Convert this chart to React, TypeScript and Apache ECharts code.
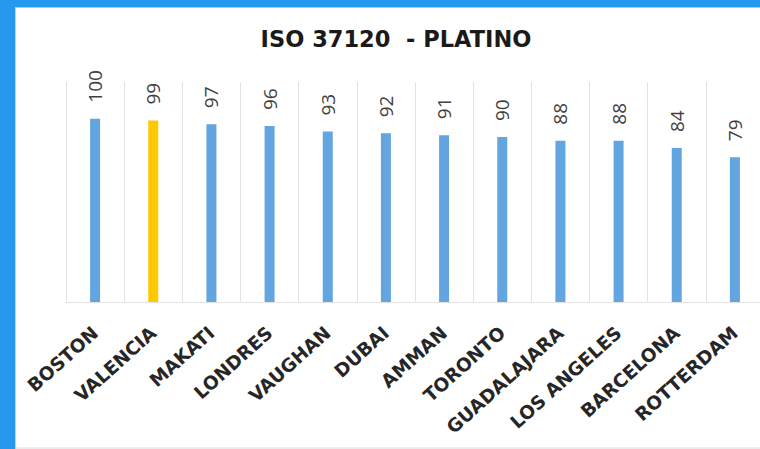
import React, { useEffect, useRef } from "react";
import * as echarts from "echarts";

const titleText = "ISO 37120  - PLATINO";
const cities = [
  "BOSTON",
  "VALENCIA",
  "MAKATI",
  "LONDRES",
  "VAUGHAN",
  "DUBAI",
  "AMMAN",
  "TORONTO",
  "GUADALAJARA",
  "LOS ANGELES",
  "BARCELONA",
  "ROTTERDAM",
];
const scores = [100, 99, 97, 96, 93, 92, 91, 90, 88, 88, 84, 79];
const highlighted = ["VALENCIA"];

const BLUE = "#62a5e0";
const GOLD = "#ffc800";

export default function App() {
  const ref = useRef<HTMLDivElement>(null);
  useEffect(() => {
    if (!ref.current) return;
    const chart = echarts.init(ref.current, undefined, { renderer: "svg" });
    chart.setOption({
      animation: false,
      backgroundColor: "#ffffff",
      title: {
        text: titleText,
        left: 391,
        textAlign: "center",
        top: 22,
        textStyle: {
          fontFamily: "DejaVu Sans",
          fontWeight: "bold",
          fontSize: 22.5,
          color: "#1a1a1a",
        },
      },
      graphic: [
        { type: "rect", shape: { x: 0, y: 0, width: 800, height: 7 }, style: { fill: "#2599ee" } },
        { type: "rect", shape: { x: 0, y: 7, width: 800, height: 1 }, style: { fill: "#9ccdf3" } },
        { type: "rect", shape: { x: 0, y: 0, width: 15, height: 449 }, style: { fill: "#2599ee" } },
        { type: "rect", shape: { x: 15, y: 7, width: 1, height: 442 }, style: { fill: "#c9d3db" } },
        { type: "rect", shape: { x: 16, y: 447, width: 800, height: 2 }, style: { fill: "#ececec" } },
      ],
      grid: { left: 66, top: 82, width: 698, height: 220 },
      xAxis: {
        type: "category",
        data: cities,
        axisLine: { show: true, lineStyle: { color: "#e3e3e3", width: 1 } },
        axisTick: { show: false },
        splitLine: { show: true, lineStyle: { color: "#e3e3e3", width: 1 } },
        axisLabel: {
          interval: 0,
          rotate: 42,
          margin: 28,
          fontFamily: "DejaVu Sans",
          fontWeight: "bold",
          fontSize: 18.5,
          color: "#262626",
        },
      },
      yAxis: {
        type: "value",
        min: 0,
        max: 120,
        show: false,
        splitLine: { show: false },
      },
      series: [
        {
          type: "bar",
          barWidth: 10,
          data: scores.map((v, i) => ({
            value: v,
            itemStyle: { color: highlighted.includes(cities[i]) ? GOLD : BLUE },
          })),
          label: {
            show: true,
            position: "top",
            rotate: 90,
            align: "left",
            verticalAlign: "middle",
            distance: 16,
            fontFamily: "Open Sans",
            fontSize: 19,
            color: "#404040",
          },
        },
      ],
    });
    return () => chart.dispose();
  }, []);
  return (
    <div
      style={{
        position: "fixed",
        left: 0,
        top: 0,
        width: 760,
        height: 449,
        overflow: "hidden",
        background: "#fff",
      }}
    >
      <div ref={ref} style={{ width: 790, height: 449 }} />
    </div>
  );
}
